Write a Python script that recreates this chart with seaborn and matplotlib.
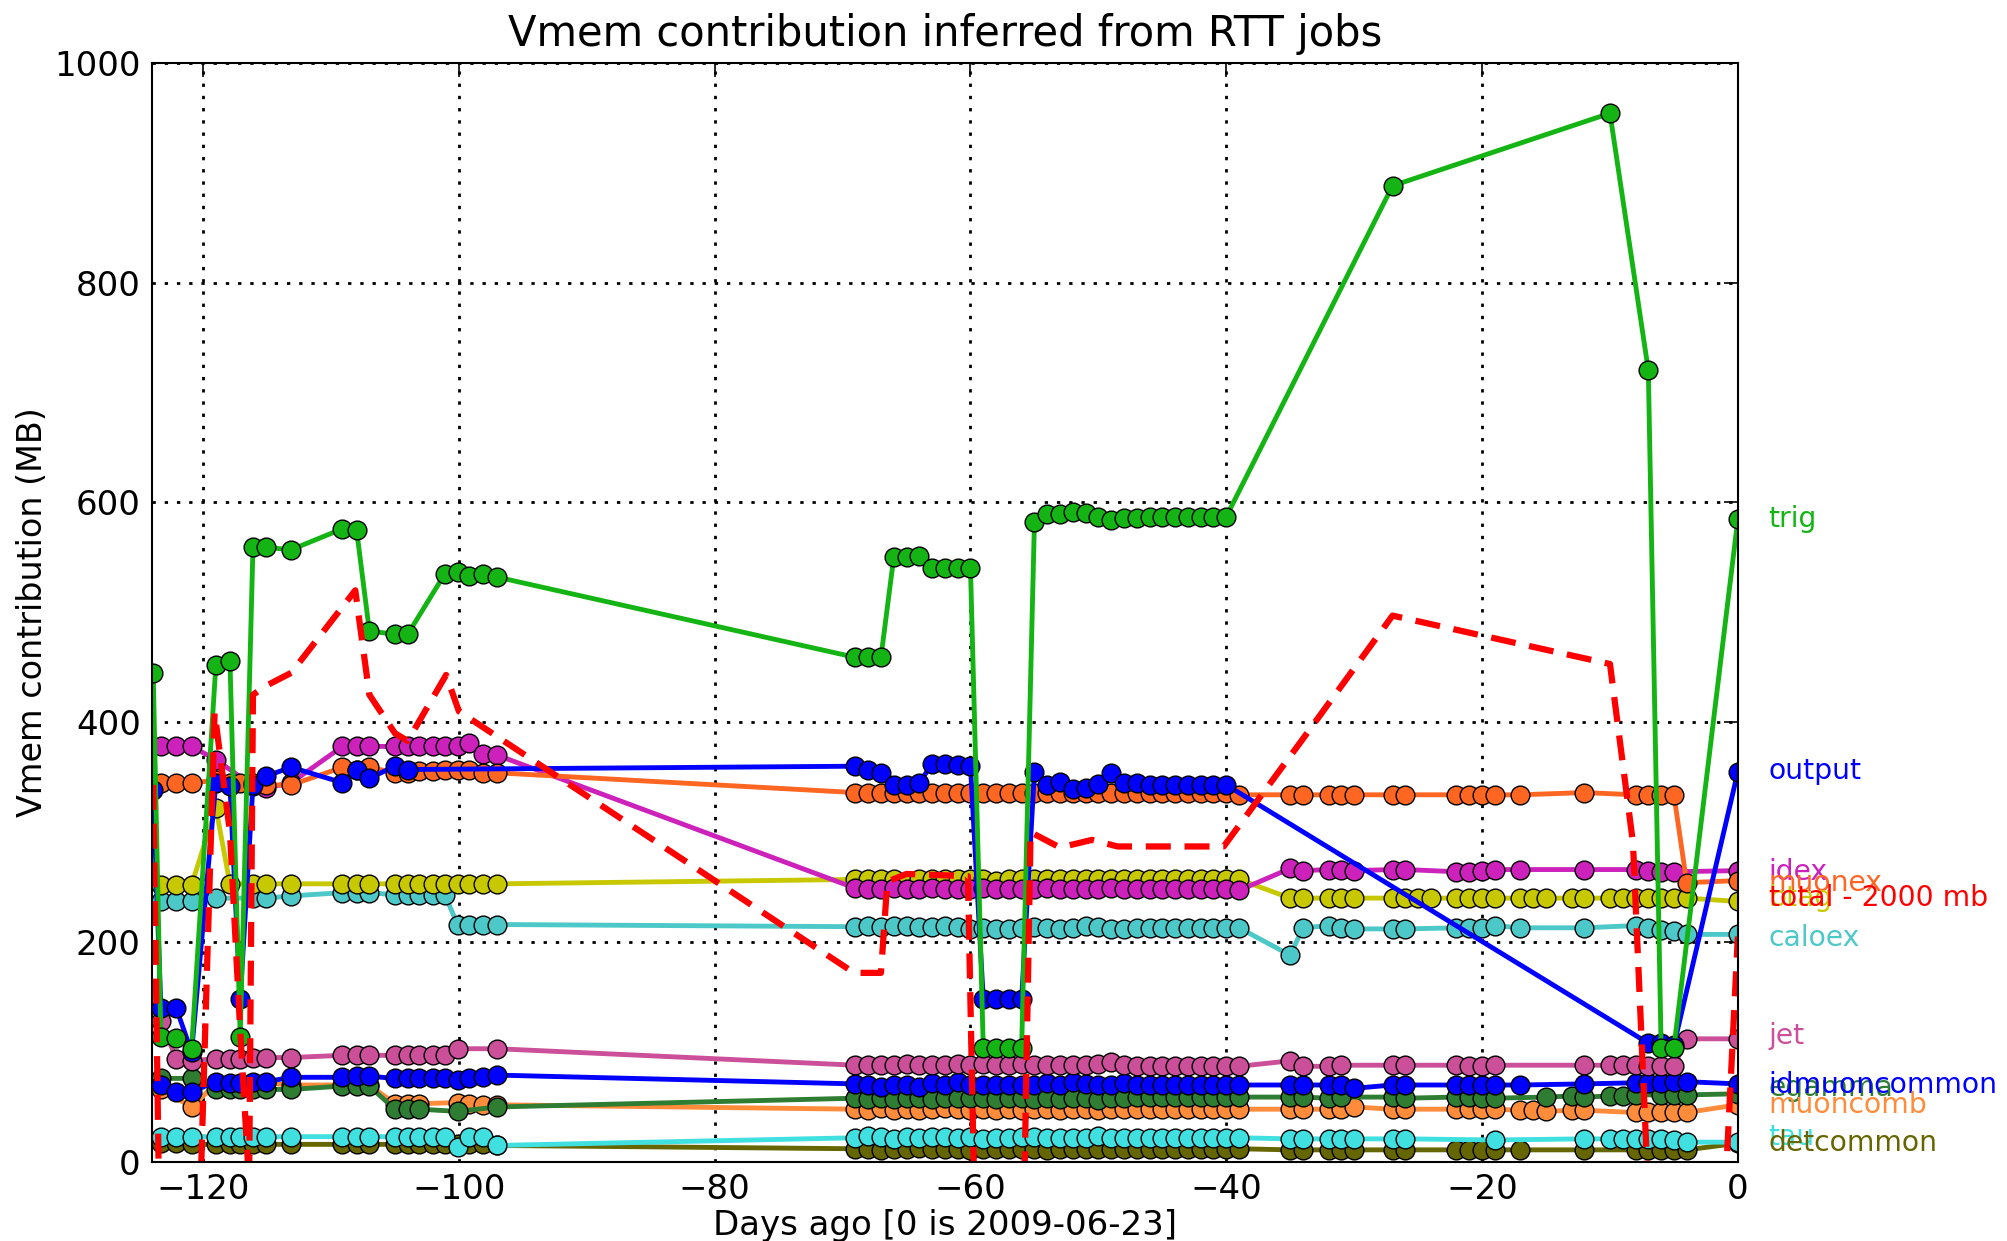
import pandas as pd
import matplotlib
matplotlib.use('Agg')
import matplotlib.pyplot as plt
import seaborn as sns

NA = None

day_first = [-123.9]
days_early = [-123.3, -122.1, -120.9, -119.0, -117.9, -117.1, -116.1, -115.1, -113.1,
              -109.1, -108.0, -107.0, -105.0, -104.0, -103.1, -102.0, -101.1, -100.1,
              -99.2, -98.1, -97.0]
days_mid = [-69, -68, -67, -66, -65, -64, -63, -62, -61, -60, -59, -58, -57, -56, -55, -54,
            -53, -52, -51, -50, -49, -48, -47, -46, -45, -44, -43, -42, -41, -40, -39]
days_late = [-35, -34, -32, -31, -30, -27, -26, -25, -24, -22, -21, -20, -19, -17, -16, -15,
             -13, -12, -10, -9, -8, -7, -6, -5, -4, 0]
days = day_first + days_early + days_mid + days_late

trig = ([445] +
        [114, 113, 103, 452, 456, 114, 559, 559, 557, 576, 575, 483, 480, 480, NA, NA, 535, 537, 533, 535, 532] +
        [459, 459, 459, 550, 550, 551, 540, 540, 540, 540, 104, 104, 104, 104, 582, 589, 589, 591, 590, 587,
         584, 586, 586, 587, 587, 587, 587, 587, 587, 587, NA] +
        [NA, NA, NA, NA, NA, 888, NA, NA, NA, NA, NA, NA, NA, NA, NA, NA, NA, NA, 954, NA, NA, 720, 104, 104, NA, 585])

output = ([338] +
          [140, 140, 100, 345, 342, 148, 343, 351, 359, 345, 357, 349, 360, 357, NA, NA, NA, NA, NA, NA, NA] +
          [360, 357, 354, 343, 343, 345, 362, 362, 361, 360, 148, 148, 148, 148, 355, 343, 346, 339, 340, 344,
           354, 345, 345, 343, 343, 343, 343, 343, 343, 343, NA] +
          [NA, NA, NA, NA, NA, NA, NA, NA, NA, NA, NA, NA, NA, NA, NA, NA, NA, NA, NA, NA, NA, 108, 108, 106, NA, 355])

idex = ([NA] +
        [378, 378, 378, 366, NA, NA, 342, 340, 345, 378, 378, 378, 378, 378, 378, 378, 378, 378, 381, 371, 370] +
        [249, 248, 248, 249, 248, 248, 249, 248, 248, 248, 249, 248, 248, 248, 248, 249, 248, 248, 248, 248,
         249, 248, 248, 248, 248, 248, 248, 248, 248, 248, 247] +
        [267, 265, 266, 266, 265, 266, 266, NA, NA, 264, 264, 265, 266, 266, NA, NA, NA, 266, NA, NA, 266, 265, 264, 264, NA, 265])

muonex = ([NA] +
          [345, 345, 345, 347, 345, 345, 345, 343, 343, 359, 357, 359, 354, 354, 356, 356, 357, 357, 357, 354, 354] +
          [336, 336, 336, 336, 336, 336, 336, 336, 336, 336, 336, 336, 336, 336, 336, 336, 336, 336, 336, 336,
           336, 336, 336, 336, 336, 336, 336, 336, 336, 336, 334] +
          [334, 334, 334, 334, 334, 334, 334, NA, NA, 334, 334, 334, 334, 334, NA, NA, NA, 336, NA, NA, 334, 334, 334, 334, 254, 256])

btag = ([NA] +
        [252, 252, 252, 322, 253, NA, 253, 253, 253, 253, 253, 253, 253, 253, 253, 253, 253, 253, 253, 253, 253] +
        [257, 257, 257, 257, 256, 257, 257, 257, 257, 257, 257, 256, 257, 257, 257, 257, 257, 257, 257, 257,
         257, 257, 257, 257, 257, 257, 257, 257, 257, 257, 257] +
        [240, 240, 240, 240, 240, 240, 240, 240, 240, 240, 240, 240, 240, 240, 240, 240, 240, 240, 240, 240,
         240, 240, 240, 240, 240, 237])

caloex = ([NA] +
          [237, 237, 237, 240, NA, NA, 240, 240, 242, 245, 245, 245, 243, 243, 243, 243, 243, 216, 216, 216, 216] +
          [214, 215, 214, 215, 215, 214, 214, 215, 214, 212, 213, 212, 212, 213, 214, 213, 212, 213, 215, 214,
           212, 212, 213, 213, 213, 213, 213, 213, 213, 213, 213] +
          [188, 213, 215, 213, 212, 212, 212, NA, NA, 213, 213, 213, 215, 213, NA, NA, NA, 213, NA, NA, 215, 213, 211, 210, 207, 207])

jet = ([NA] +
       [128, 94, 92, 94, 94, 94, 95, 95, 95, 97, 97, 97, 97, 97, 97, 97, 97, 103, NA, NA, 103] +
       [88, 88, 88, 88, 89, 88, 88, 88, 89, 88, 89, 88, 88, 89, 88, 88, 88, 88, 88, 89,
        91, 88, 87, 87, 87, 87, 87, 87, 87, 87, 87] +
       [92, 87, 87, 88, NA, 88, 88, NA, NA, 88, 87, 87, 88, NA, NA, NA, NA, 88, 88, 88, 88, 87, 87, 87, 112, 112])

idmuoncommon = ([NA] +
                [70, 64, 64, 73, 72, 72, 73, 73, 77, 77, 78, 78, 76, 76, 76, 76, 76, 75, 76, 77, 79] +
                [71, 70, 68, 70, 70, 68, 72, 70, 73, 70, 70, 70, 70, 70, 70, 72, 70, 73, 71, 70,
                 70, 72, 70, 70, 70, 70, 70, 70, 70, 70, 70] +
                [70, 70, 70, 70, 67, 70, 70, NA, NA, 70, 70, 70, 70, 70, NA, NA, NA, 71, NA, NA, 72, 72, 72, 73, 73, 71])

egamma = ([NA] +
          [76, NA, 76, 66, 66, 66, 66, 66, 66, 69, 69, 69, 48, 48, 48, NA, NA, 46, NA, NA, 50] +
          [58, 57, 58, 57, 58, 58, 57, 58, 58, 58, 58, 57, 58, 58, 57, 58, 57, 58, 58, 56,
           58, 58, 59, 59, 59, 59, 59, 59, 59, 59, 59] +
          [59, 59, 58, 59, NA, 59, 58, NA, NA, 59, 59, 58, 58, NA, NA, 59, 60, 59, 60, 60, 61, NA, 61, 61, 61, 62])

muoncomb = ([NA] +
            [66, NA, 50, 71, 71, NA, 72, 72, 70, 70, 70, 70, 53, 53, 53, NA, NA, 54, 53, 52, 52] +
            [48, 47, 49, 47, 48, 47, 48, 49, 48, 47, 48, 47, 48, 47, 48, 48, 47, 48, 48, 47,
             48, 48, 48, 48, 48, 48, 48, 48, 48, 48, 48] +
            [48, 48, 48, 48, 50, 48, 48, NA, NA, 48, 48, 48, 48, 47, 47, 46, 47, 47, NA, NA, 45, 45, 45, 45, 45, 52])

tau = ([NA] +
       [23, 23, 23, 23, 23, 23, 23, 23, 23, 23, 23, 23, 23, 23, 23, 23, 23, 14, 23, 23, 15] +
       [22, 24, 23, 21, 23, 22, 23, 23, 22, 23, 21, 22, 22, 23, 23, 22, 22, 22, 22, 24,
        22, 22, 22, 22, 22, 22, 22, 22, 22, 22, 22] +
       [21, 21, 21, 21, 21, 21, 21, NA, NA, NA, NA, NA, 20, NA, NA, NA, NA, 21, 21, 21, 21, 21, 21, 20, 18, 18])

detcommon = ([NA] +
             [17, 17, 16, 16, 16, 16, 16, 16, 16, 16, 16, 16, 16, 16, 16, 16, 16, 16, 16, 16, 15] +
             [12, 12, 11, 12, 12, 13, 12, 12, 12, 11, 12, 12, 12, 12, 12, 11, 12, 12, 12, 12,
              12, 12, 12, 12, 12, 12, 12, 12, 12, 12, 12] +
             [11, 11, 11, 11, 11, 11, 11, NA, NA, 11, 11, 11, 11, 11, NA, NA, NA, 11, NA, NA, 11, 11, 11, 11, 11, 17])

# total - 2000 mb (linea discontinua, sin marcadores)
total_days = [-123.9, -123.3, -120.9, -119.1, -117.9, -117.1, -116.4, -116.1, -115.1, -113.1, -108.1,
              -107.0, -105.0, -104.0, -101.0, -100.0, -69.1, -67.0, -66.5, -65.0, -60.2, -59.7,
              -55.8, -55.3, -53.0, -50.5, -48.5, -40.2, -34.0, -27.0, -10.0, -8.2, -7.0, -1.0, 0.0]
total_vals = [343, -150, -300, 409, 300, 120, -20, 425, 433, 445, 520,
              425, 390, 383, 443, 410, 172, 172, 255, 262, 260, -30,
              -30, 300, 286, 293, 287, 287, 385, 497, 453, 290, -30, -30, 205]

# orden de dibujo (de abajo a arriba)
series = {
    'detcommon': detcommon, 'tau': tau, 'muoncomb': muoncomb, 'egamma': egamma,
    'idmuoncommon': idmuoncommon, 'jet': jet, 'caloex': caloex, 'btag': btag,
    'idex': idex, 'muonex': muonex, 'output': output, 'trig': trig,
}
colors = {
    'detcommon': '#666600', 'tau': '#40e0e0', 'muoncomb': '#ff8c3a', 'egamma': '#2e7d32',
    'idmuoncommon': '#0000ff', 'jet': '#cc4f99', 'caloex': '#4cc8c8', 'btag': '#c8c800',
    'idex': '#cc22bb', 'muonex': '#ff6622', 'output': '#0000ff', 'trig': '#14b414',
}
# posicion de las etiquetas a la derecha
label_order = ['trig', 'output', 'idex', 'muonex', 'btag', 'total - 2000 mb', 'caloex', 'jet',
               'egamma', 'idmuoncommon', 'muoncomb', 'tau', 'detcommon']
label_y = [585, 356, 264, 254, 240, 240, 204, 115, 67, 70, 52, 23, 17]

frames = []
for name, vals in series.items():
    d = pd.DataFrame({'day': days, 'value': vals})
    d['series'] = name
    frames.append(d)
df = pd.concat(frames).dropna()

sns.set_style('white', {'text.color': 'black', 'axes.labelcolor': 'black',
                        'xtick.color': 'black', 'ytick.color': 'black'})
plt.rcParams['font.family'] = ['DejaVu Sans']

fig = plt.figure(figsize=(20.07, 12.41), dpi=100)
ax = fig.add_axes([0.0757, 0.0637, 0.7902, 0.8858])

sns.lineplot(data=df, x='day', y='value', hue='series', hue_order=list(series.keys()),
             palette=colors, marker='o', markersize=13.5, markeredgecolor='black',
             markeredgewidth=1.0, linewidth=3.5, estimator=None, legend=False, ax=ax)
sns.lineplot(x=total_days, y=total_vals, color='#ff0000', linestyle=(0, (4, 2.2)), linewidth=4.5,
             estimator=None, sort=False, ax=ax)

ax.set_xlim(-124, 0)
ax.set_ylim(0, 1000)
ax.set_xticks([-120, -100, -80, -60, -40, -20, 0])
ax.set_yticks([0, 200, 400, 600, 800, 1000])
ax.grid(True, color='black', linestyle=(0, (1.2, 3.2)), linewidth=2)
ax.set_axisbelow(True)
ax.tick_params(direction='in', length=10, width=1.2, top=True, right=True, labelsize=24.5, pad=8,
               colors='black')
for s in ax.spines.values():
    s.set_visible(True)
    s.set_color('black')
    s.set_linewidth(1.5)

ax.set_title('Vmem contribution inferred from RTT jobs', fontsize=30, pad=12, color='black')
ax.set_xlabel('Days ago [0 is 2009-06-23]', fontsize=24.5, labelpad=2)
ax.set_ylabel('Vmem contribution (MB)', fontsize=24, labelpad=4)

label_colors = dict(colors)
label_colors['total - 2000 mb'] = '#ff0000'
for name, y in zip(label_order, label_y):
    ax.text(2.4, y, name, color=label_colors[name], fontsize=20.3, va='center', ha='left',
            clip_on=False)

fig.savefig('out.png', dpi=100)
